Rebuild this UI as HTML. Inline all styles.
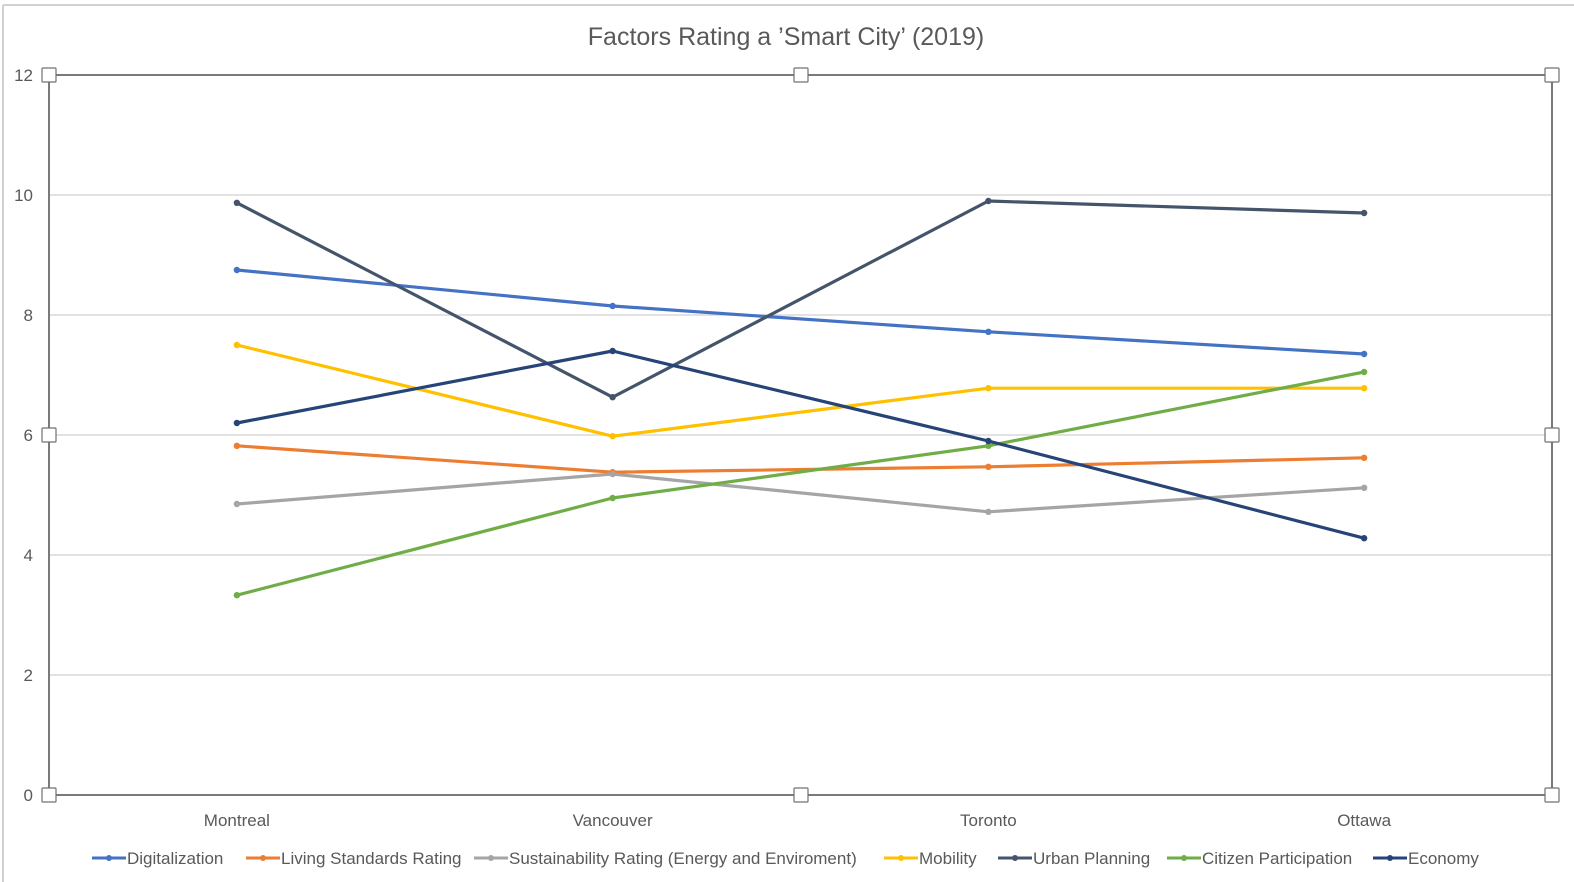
<!DOCTYPE html>
<html><head><meta charset="utf-8"><style>
html,body{margin:0;padding:0;background:#fff;}
svg{display:block;font-family:"Liberation Sans",sans-serif;}
</style></head><body>
<svg id="chart" width="1574" height="882" xmlns="http://www.w3.org/2000/svg">
<line x1="3" y1="5" x2="1574" y2="5" stroke="#d0d0d0" stroke-width="2"/>
<line x1="3" y1="5" x2="3" y2="882" stroke="#d0d0d0" stroke-width="2"/>
<text x="786" y="45" text-anchor="middle" font-size="25" fill="#595959">Factors Rating a ’Smart City’  (2019)</text>
<g id="grid"></g>
<rect x="49" y="75" width="1503" height="720" fill="none" stroke="#7a7a7a" stroke-width="2"/>
<g id="series"></g>
<g id="handles"></g>
<g id="legend"></g>
</svg>
<script>
const categories=["Montreal","Vancouver","Toronto","Ottawa"];
const yTicks=[0,2,4,6,8,10,12];
const seriesNames=["Digitalization","Living Standards Rating","Sustainability Rating (Energy and Enviroment)","Mobility","Urban Planning","Citizen Participation","Economy"];
const seriesColors=["#4472c4","#ed7d31","#a5a5a5","#ffc000","#44546a","#70ad47","#264478"];
const digitalization=[8.75,8.15,7.72,7.35];
const livingStandards=[5.82,5.38,5.47,5.62];
const sustainability=[4.85,5.35,4.72,5.12];
const mobility=[7.5,5.98,6.78,6.78];
const urbanPlanning=[9.87,6.63,9.9,9.7];
const citizenParticipation=[3.33,4.95,5.82,7.05];
const economy=[6.2,7.4,5.9,4.28];
const seriesValues=[digitalization,livingStandards,sustainability,mobility,urbanPlanning,citizenParticipation,economy];

const NS="http://www.w3.org/2000/svg";
const X0=49,X1=1552,Y0=795,Y1=75;
const yScale=v=>Y0-(v/12)*(Y0-Y1);
const xScale=i=>X0+(X1-X0)*(i+0.5)/categories.length;
function mk(tag,attrs,parent){const e=document.createElementNS(NS,tag);for(const k in attrs)e.setAttribute(k,attrs[k]);parent.appendChild(e);return e;}
const grid=document.getElementById('grid');
yTicks.forEach(t=>{
  const y=yScale(t);
  if(t>0&&t<12){const l=mk('line',{x1:X0,x2:X1,y1:y,y2:y,stroke:'#d9d9d9','stroke-width':1.5},grid);
  
  }
  const tx=mk('text',{x:33,y:y+6,'text-anchor':'end','font-size':17,fill:'#595959'},grid);
  tx.textContent=t;
  
  
});
categories.forEach((c,i)=>{
  const tx=mk('text',{x:xScale(i),y:826,'text-anchor':'middle','font-size':17,fill:'#595959'},grid);
  tx.textContent=c;
  
  
});
const sg=document.getElementById('series');
seriesValues.forEach((vals,s)=>{
  const g=mk('g',{},sg);
  
  
  const pts=vals.map((v,i)=>xScale(i)+','+yScale(v)).join(' ');
  mk('polyline',{points:pts,fill:'none',stroke:seriesColors[s],'stroke-width':3.2,'stroke-linejoin':'round'},g);
  vals.forEach((v,i)=>{
    const c=mk('circle',{cx:xScale(i),cy:yScale(v),r:3.2,fill:seriesColors[s]},g);
    
    
  });
});
const hg=document.getElementById('handles');
[[49,75],[801,75],[1552,75],[49,435],[1552,435],[49,795],[801,795],[1552,795]].forEach(([x,y],i)=>{
  const r=mk('rect',{x:x-7,y:y-7,width:14,height:14,fill:'#fff',stroke:'#707070','stroke-width':1.2,rx:1},hg);
  
  
});
const lg=document.getElementById('legend');
const legendX=[92,246,474,884,998,1167,1373];
seriesNames.forEach((n,s)=>{
  const g=mk('g',{},lg);
  
  
  const x=legendX[s];
  mk('line',{x1:x,x2:x+34,y1:858,y2:858,stroke:seriesColors[s],'stroke-width':3},g);
  mk('circle',{cx:x+17,cy:858,r:3,fill:seriesColors[s]},g);
  const t=mk('text',{x:x+35,y:864,'font-size':17,fill:'#595959'},g);
  t.textContent=n;
});
</script>
</body></html>
